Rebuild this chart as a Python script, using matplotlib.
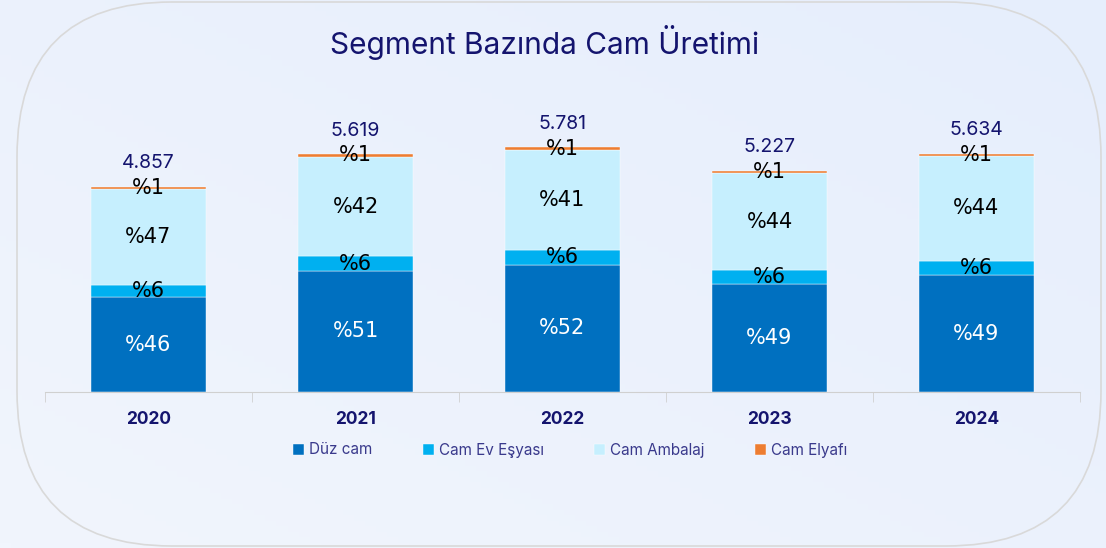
import numpy as np
import matplotlib
matplotlib.use("Agg")
from matplotlib import pyplot as plt
from matplotlib.patches import FancyBboxPatch

years = ["2020", "2021", "2022", "2023", "2024"]
totals = [4857, 5619, 5781, 5227, 5634]
total_labels = ["4.857", "5.619", "5.781", "5.227", "5.634"]
segments = ["Düz cam", "Cam Ev Eşyası", "Cam Ambalaj", "Cam Elyafı"]
# share of each segment (%) per year
duz_cam = [46, 51, 52, 49, 49]
cam_ev = [6, 6, 6, 6, 6]
cam_ambalaj = [47, 42, 41, 44, 44]
cam_elyaf = [1, 1, 1, 1, 1]
colors = ["#0070C0", "#00B0F0", "#C6EFFE", "#ED7D31"]
label_colors = ["white", "black", "black", "black"]

navy = "#14146e"
plt.rcParams["font.family"] = ["Inter", "DejaVu Sans"]

fig = plt.figure(figsize=(11.06, 5.48), dpi=100)

# background gradient
bg = fig.add_axes([0, 0, 1, 1], zorder=-10)
gx, gy = np.meshgrid(np.linspace(0, 1, 200), np.linspace(0, 1, 100))
grad = 0.5 * gx + 0.5 * (1 - gy)
bg.imshow(grad, cmap=matplotlib.colors.LinearSegmentedColormap.from_list(
    "bgc", ["#f1f5fd", "#e6eefc"]), aspect="auto", extent=[0, 1, 0, 1])
bg.set_xlim(0, 1)
bg.set_ylim(0, 1)
bg.axis("off")
W, H = 1106, 548
box = FancyBboxPatch((17 / W, 2 / H), (1101 - 17) / W, (546 - 2) / H,
                     boxstyle="round,pad=0,rounding_size=0.14",
                     mutation_aspect=W / H,
                     transform=bg.transAxes, facecolor="none",
                     edgecolor="#d9d9d9", linewidth=1.2)
bg.add_patch(box)

ax = fig.add_axes([45 / W, (H - 392) / H, (1080 - 45) / W, (392 - 117) / H])
ax.patch.set_alpha(0)
x = np.arange(len(years))
shares = [duz_cam, cam_ev, cam_ambalaj, cam_elyaf]
bottom = np.zeros(len(years))
for name, share, col, lcol in zip(segments, shares, colors, label_colors):
    vals = np.array(totals) * np.array(share) / 100.0
    ax.bar(x, vals, width=0.555, bottom=bottom, color=col, label=name,
           edgecolor="white", linewidth=0.3)
    for xi, b, v, s in zip(x, bottom, vals, share):
        ax.text(xi, b + v / 2, "%" + str(s), ha="center", va="center",
                fontsize=15, color=lcol, family="DejaVu Sans")
    bottom = bottom + vals

for xi, t, lab in zip(x, totals, total_labels):
    ax.annotate(lab, (xi, t), xytext=(0, 17), textcoords="offset points",
                ha="center", va="center", fontsize=14, color=navy)

ax.set_xlim(-0.5, len(years) - 0.5)
ax.set_ylim(0, 6500)
ax.set_yticks([])
for sp in ["top", "right", "left"]:
    ax.spines[sp].set_visible(False)
ax.spines["bottom"].set_color("#d0d0d0")
ax.set_xticks(x)
ax.set_xticklabels(years, fontsize=12.5, fontweight="bold", color=navy)
ax.tick_params(axis="x", length=0, pad=14)
ax.set_xticks(np.arange(-0.5, len(years)), minor=True)
ax.tick_params(axis="x", which="minor", length=7, color="#d0d0d0")

fig.text(545 / W, 1 - 42 / H, "Segment Bazında Cam Üretimi", ha="center",
         va="center", fontsize=21.5, color=navy)

leg = ax.legend(loc="center", bbox_to_anchor=((570 - 45) / (1080 - 45),
                                              (392 - 450) / (392 - 117)),
                ncol=4, frameon=False, fontsize=11, handlelength=0.75,
                handleheight=0.75, handletextpad=0.3, columnspacing=3.3)
for t in leg.get_texts():
    t.set_color("#3a3a8c")

fig.savefig("out.png", dpi=100)
